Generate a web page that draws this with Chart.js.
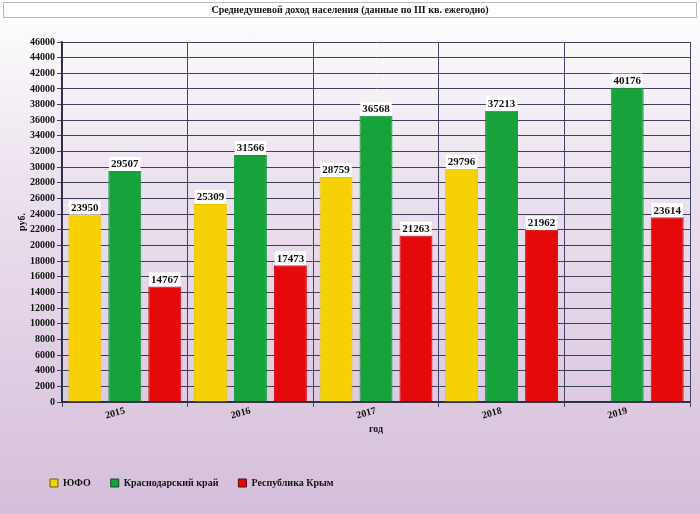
<!DOCTYPE html>
<html>
<head>
<meta charset="utf-8">
<script src="https://cdn.jsdelivr.net/npm/chart.js@4.4.1/dist/chart.umd.min.js"></script>
<style>
  html, body { margin: 0; padding: 0; }
  body {
    width: 700px; height: 514px; overflow: hidden;
    background: linear-gradient(to bottom, #ffffff 0%, #ece2ee 35%, #d5bedb 100%);
  }
  #wrap { position: relative; width: 700px; height: 514px; }
</style>
</head>
<body>
<div id="wrap"><canvas id="chart"></canvas></div>
<script>
// данные
const years = ['2015', '2016', '2017', '2018', '2019'];
const yufo = [23950, 25309, 28759, 29796, null];
const krasnodar = [29507, 31566, 36568, 37213, 40176];
const krym = [14767, 17473, 21263, 21962, 23614];

const chartTitle = 'Среднедушевой доход населения (данные по III кв. ежегодно)';
const serif = '"Liberation Serif", "DejaVu Serif", serif';

// рамка заголовка, подпись оси Y
const frameAndLabels = {
    id: 'frameAndLabels',
    beforeDraw(chart) {
        const ctx = chart.ctx;
        ctx.save();
        ctx.fillStyle = '#ffffff';
        ctx.fillRect(3.5, 2.5, 693, 15);
        ctx.strokeStyle = '#b8b8b8';
        ctx.lineWidth = 1;
        ctx.strokeRect(3.5, 2.5, 693, 15);
        ctx.fillStyle = '#111';
        ctx.font = 'bold 10px ' + serif;
        ctx.textAlign = 'center';
        ctx.textBaseline = 'middle';
        ctx.fillText(chartTitle, 350, 10);

        ctx.translate(22, 222);
        ctx.rotate(-Math.PI / 2);
        ctx.fillText('руб.', 0, 0);
        ctx.restore();
    },
    afterDatasetsDraw(chart) {
        // значения над столбиками
        const ctx = chart.ctx;
        ctx.save();
        ctx.font = 'bold 11px ' + serif;
        ctx.textAlign = 'center';
        ctx.textBaseline = 'bottom';
        chart.data.datasets.forEach((ds, i) => {
            chart.getDatasetMeta(i).data.forEach((bar, j) => {
                const v = ds.data[j];
                if (v == null) return;
                const txt = String(v);
                const w = ctx.measureText(txt).width + 4;
                ctx.fillStyle = '#ffffff';
                ctx.fillRect(bar.x - w / 2, bar.y - 14, w, 14);
                ctx.fillStyle = '#111';
                ctx.fillText(txt, bar.x, bar.y - 1);
            });
        });
        ctx.restore();
    }
};

const ctx = document.getElementById('chart').getContext('2d');
new Chart(ctx, {
    type: 'bar',
    data: {
        labels: years,
        datasets: [
            { label: 'ЮФО', data: yufo, backgroundColor: '#f6d106', borderColor: '#e8c400',
              legendStroke: '#6b5a00' },
            { label: 'Краснодарский край', data: krasnodar, backgroundColor: '#17a23c', borderColor: '#12953a',
              legendStroke: '#0c4a1c' },
            { label: 'Республика Крым', data: krym, backgroundColor: '#e40a0c', borderColor: '#d6080a',
              legendStroke: '#5a0a0a' }
        ]
    },
    options: {
        responsive: true,
        maintainAspectRatio: false,
        animation: false,
        datasets: {
            bar: { categoryPercentage: 0.955, barPercentage: 0.825, borderWidth: 1 }
        },
        layout: { padding: { top: 42, left: 30, right: 10, bottom: 16 } },
        plugins: {
            tooltip: { enabled: false },
            legend: {
                position: 'bottom',
                align: 'start',
                labels: {
                    boxWidth: 8,
                    boxHeight: 8,
                    padding: 20,
                    color: '#111',
                    font: { family: serif, size: 10, weight: 'bold' },
                    generateLabels(chart) {
                        return chart.data.datasets.map((ds, i) => ({
                            text: ds.label,
                            fillStyle: ds.backgroundColor,
                            strokeStyle: ds.legendStroke,
                            lineWidth: 1,
                            fontColor: '#111',
                            datasetIndex: i
                        }));
                    }
                }
            }
        },
        scales: {
            x: {
                afterFit(scale) { scale.height = 56; },
                grid: { offset: true, color: '#44446a', tickLength: 5, drawTicks: true },
                border: { color: '#2a2a3a', width: 1.5 },
                ticks: {
                    color: '#111',
                    minRotation: 15,
                    maxRotation: 15,
                    padding: -2,
                    font: { family: serif, size: 10, weight: 'bold' }
                },
                title: {
                    display: true,
                    text: 'год',
                    color: '#111',
                    padding: { top: 0, bottom: 23 },
                    font: { family: serif, size: 10, weight: 'bold' }
                }
            },
            y: {
                min: 0,
                max: 46000,
                afterFit(scale) { scale.width = 32; },
                grid: { color: '#40405a', tickLength: 5 },
                border: { color: '#2a2a3a', width: 1.5 },
                ticks: {
                    stepSize: 2000,
                    autoSkip: false,
                    color: '#111',
                    padding: 2,
                    font: { family: serif, size: 10, weight: 'bold' },
                    callback: (v) => String(v)
                }
            }
        }
    },
    plugins: [frameAndLabels]
});
</script>
</body>
</html>
